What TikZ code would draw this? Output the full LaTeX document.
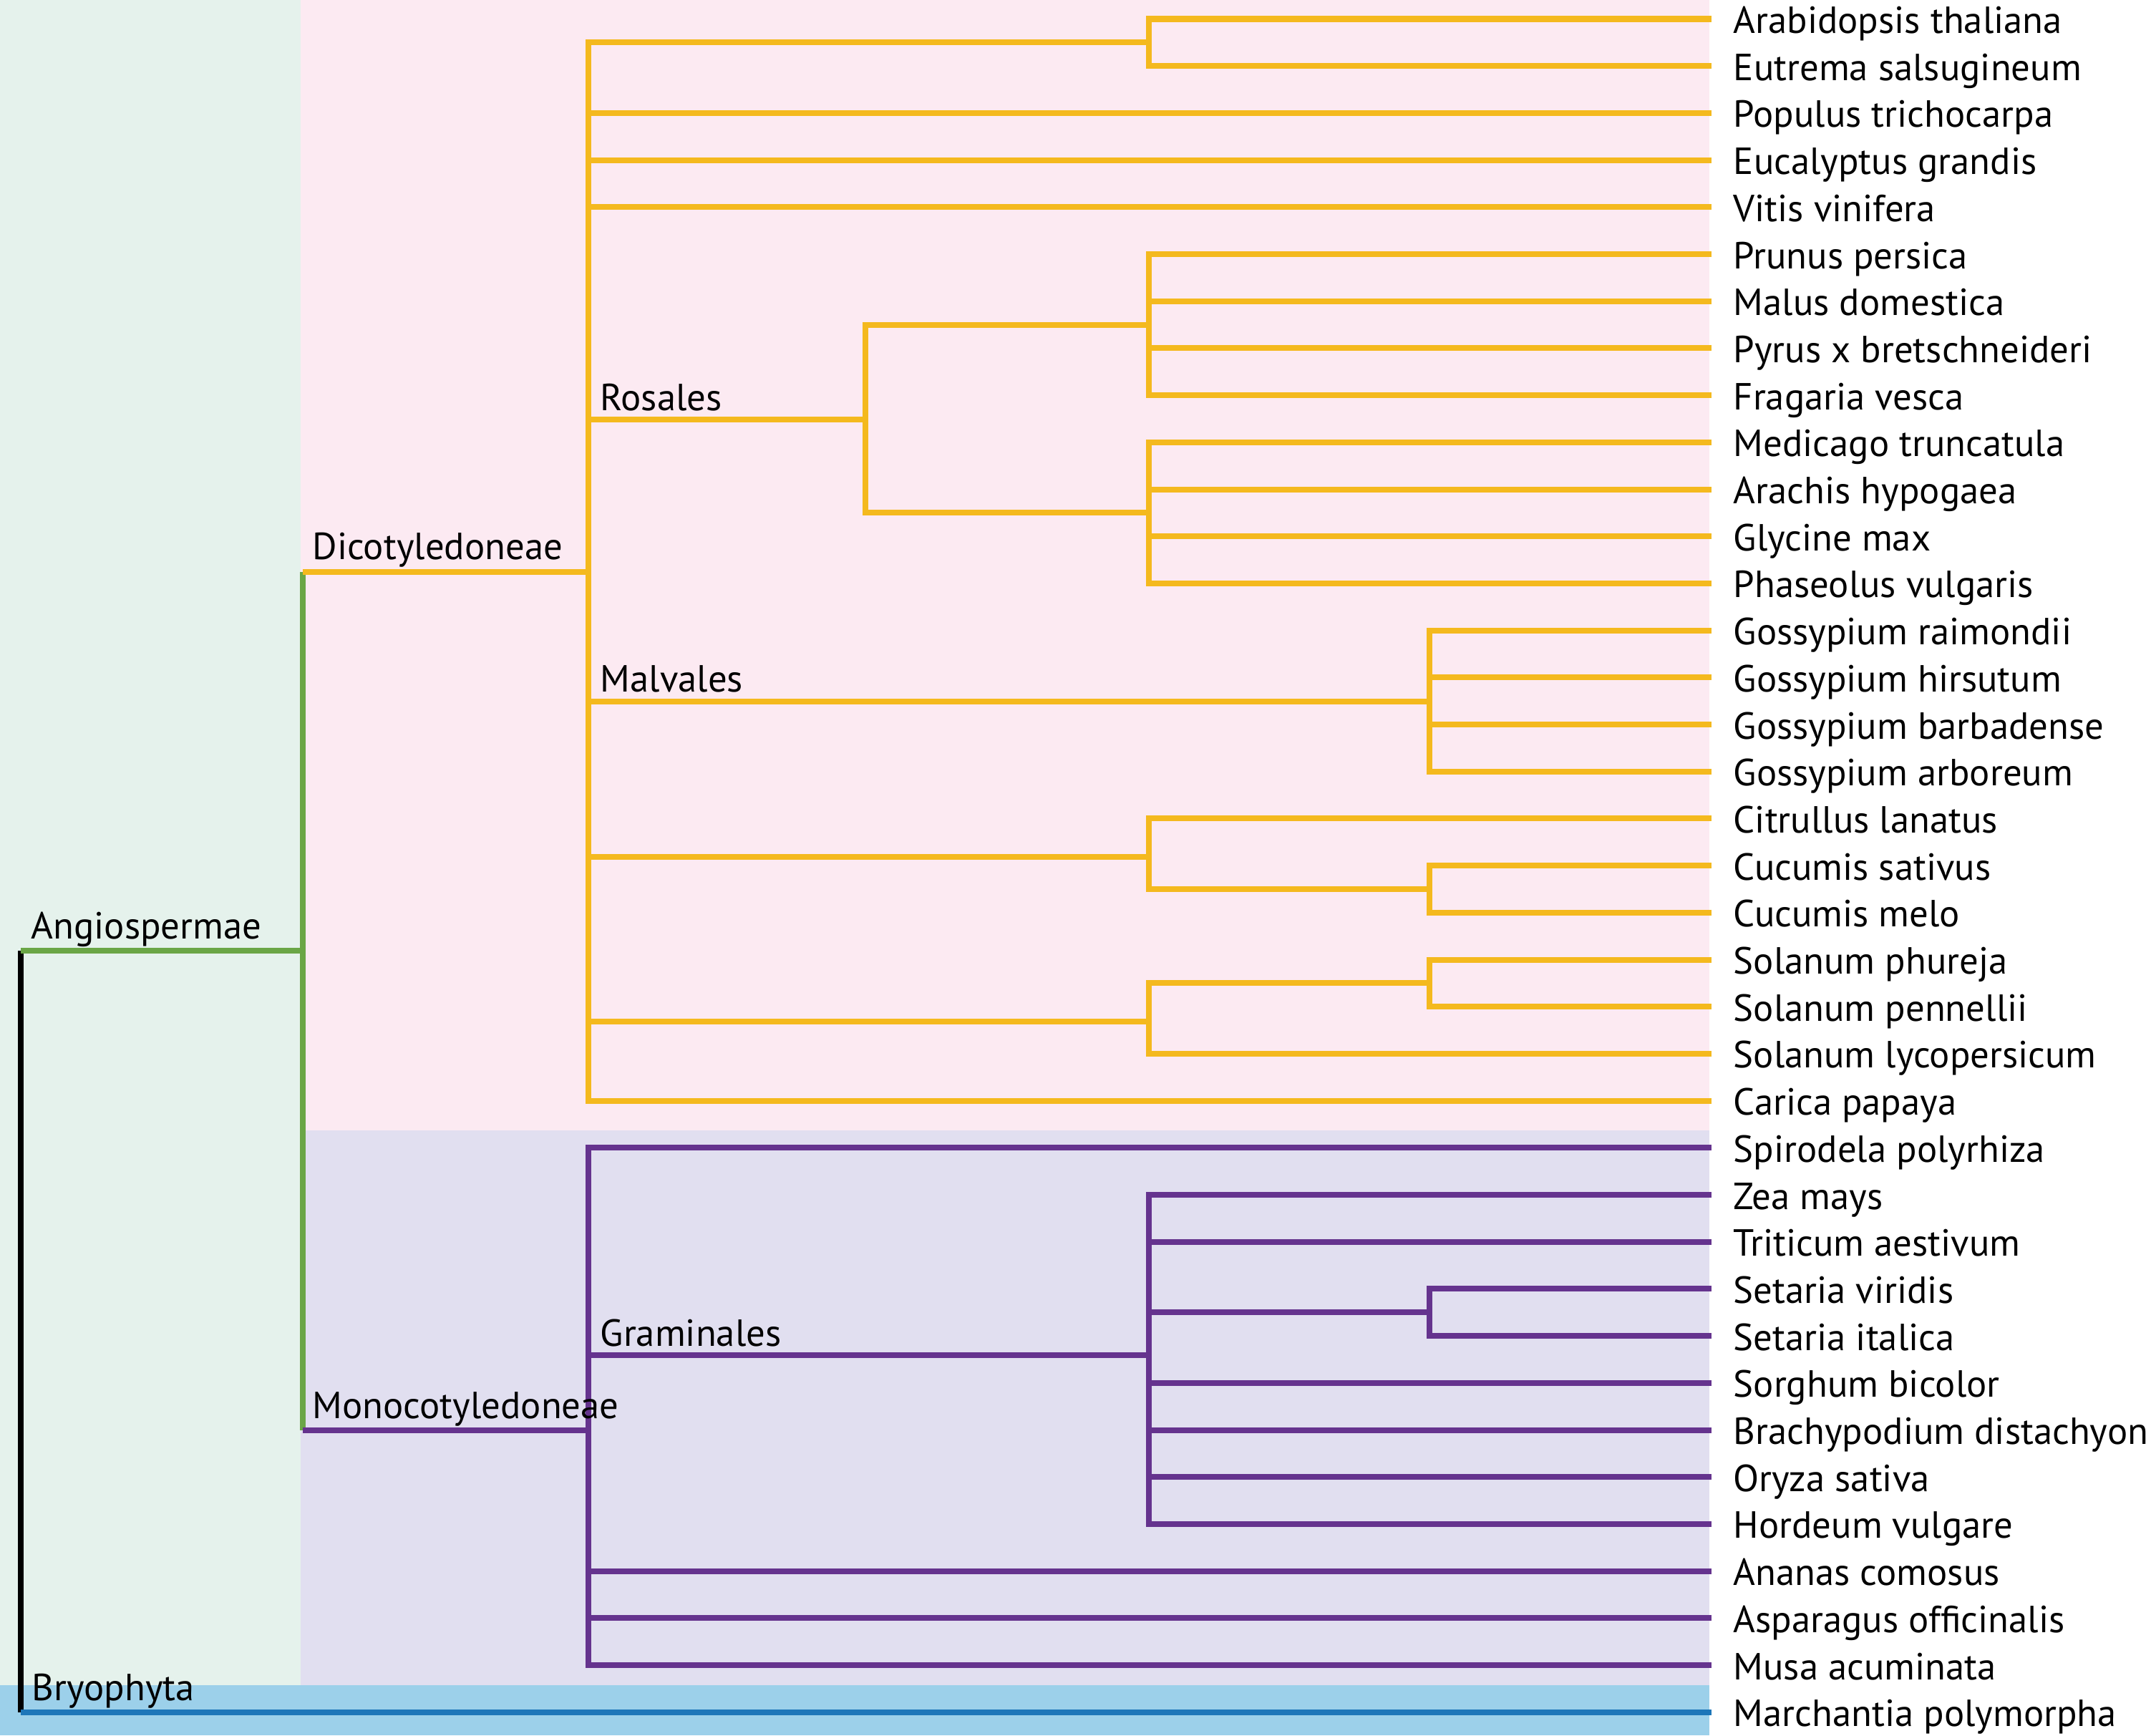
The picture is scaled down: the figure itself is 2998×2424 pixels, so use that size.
\documentclass[tikz,border=0pt]{standalone}
\usepackage{fontspec}
\setmainfont{PT Sans}
\definecolor{bggreen}{HTML}{E5F2EC}
\definecolor{bgpink}{HTML}{FCEAF2}
\definecolor{bglav}{HTML}{E1DFF0}
\definecolor{bgblue}{HTML}{9CD0EA}
\definecolor{cyellow}{HTML}{F4B91E}
\definecolor{cgreen}{HTML}{6AA646}
\definecolor{cpurple}{HTML}{65338E}
\definecolor{cblue}{HTML}{1D76B9}
\tikzset{
  branch/.style={line width=0.08cm},
  dico/.style={branch, draw=cyellow},
  mono/.style={branch, draw=cpurple},
  angio/.style={branch, draw=cgreen},
  bryo/.style={branch, draw=cblue},
  rootline/.style={branch, draw=black},
  leaf/.style={anchor=base west, inner sep=0pt, font=\fontsize{15}{18}\selectfont, text=black},
  clade/.style={anchor=base west, inner sep=0pt, font=\fontsize{15}{18}\selectfont, text=black}
}
\begin{document}
\begin{tikzpicture}[x=0.01cm, y=-0.01cm]
\useasboundingbox (0,0) rectangle (2998,2424);
% backgrounds
\fill[bggreen] (0,0) rectangle (420,2354);
\fill[bgpink] (420,0) rectangle (2388,1578.5);
\fill[bglav] (420,1578.5) rectangle (2388,2354);
\fill[bgblue] (0,2354) rectangle (2388,2424);

% leaves
\foreach \n [count=\i from 0] in {Arabidopsis thaliana, Eutrema salsugineum, Populus trichocarpa, Eucalyptus grandis, Vitis vinifera, Prunus persica, Malus domestica, Pyrus x bretschneideri, Fragaria vesca, Medicago truncatula, Arachis hypogaea, Glycine max, Phaseolus vulgaris, Gossypium raimondii, Gossypium hirsutum, Gossypium barbadense, Gossypium arboreum, Citrullus lanatus, Cucumis sativus, Cucumis melo, Solanum phureja, Solanum pennellii, Solanum lycopersicum, Carica papaya, Spirodela polyrhiza, Zea mays, Triticum aestivum, Setaria viridis, Setaria italica, Sorghum bicolor, Brachypodium distachyon, Oryza sativa, Hordeum vulgare, Ananas comosus, Asparagus officinalis, Musa acuminata, Marchantia polymorpha} {
  \coordinate (t\i) at (2391, {26.5+65.7*\i});
  \node[leaf] (l\i) at (2421, {26.5+65.7*\i+20}) {\n};
}

% internal nodes
\coordinate (root) at (29,1328);
\coordinate (angio) at (423,1328);
\coordinate (dicot) at (822,799);
\coordinate (monoc) at (822,1997.5);
\coordinate (brass) at (1605,59.35);
\coordinate (ros) at (1209,585.7);
\coordinate (rosA) at (1605,453.55);
\coordinate (rosB) at (1605,716.35);
\coordinate (malv) at (1997,979.5);
\coordinate (cucu) at (1605,1196.7);
\coordinate (cucumis) at (1997,1241.95);
\coordinate (sola) at (1605,1426.7);
\coordinate (solsub) at (1997,1373.35);
\coordinate (gram) at (1605,1893.3);
\coordinate (seta) at (1997,1833.25);

% root
\draw[rootline] (root) -- (root |- t36);
\draw[bryo] (root |- t36) -- (t36);
% angiosperms
\draw[angio] (root) -- (angio);
\draw[angio] (angio |- dicot) -- (angio |- monoc);
\draw[dico] (angio |- dicot) -- (dicot);
\draw[mono] (angio |- monoc) -- (monoc);

% dicots
\foreach \c in {brass, t2, t3, t4, ros, malv, cucu, sola, t23}
  \draw[dico] (dicot) |- (\c);
\foreach \c in {t0, t1} \draw[dico] (brass) |- (\c);
\foreach \c in {rosA, rosB} \draw[dico] (ros) |- (\c);
\foreach \c in {t5, t6, t7, t8} \draw[dico] (rosA) |- (\c);
\foreach \c in {t9, t10, t11, t12} \draw[dico] (rosB) |- (\c);
\foreach \c in {t13, t14, t15, t16} \draw[dico] (malv) |- (\c);
\foreach \c in {t17, cucumis} \draw[dico] (cucu) |- (\c);
\foreach \c in {t18, t19} \draw[dico] (cucumis) |- (\c);
\foreach \c in {solsub, t22} \draw[dico] (sola) |- (\c);
\foreach \c in {t20, t21} \draw[dico] (solsub) |- (\c);

% monocots
\foreach \c in {t24, gram, t33, t34, t35}
  \draw[mono] (monoc) |- (\c);
\foreach \c in {t25, t26, seta, t29, t30, t31, t32} \draw[mono] (gram) |- (\c);
\foreach \c in {t27, t28} \draw[mono] (seta) |- (\c);

% clade labels
\node[clade] (lAngio) at (43,1311) {Angiospermae};
\node[clade] (lBryo) at (44,2375) {Bryophyta};
\node[clade] (lDicot) at (436,781) {Dicotyledoneae};
\node[clade] (lMono) at (436,1981) {Monocotyledoneae};
\node[clade] (lRos) at (838,573) {Rosales};
\node[clade] (lMalv) at (838,966) {Malvales};
\node[clade] (lGram) at (838,1880) {Graminales};
\end{tikzpicture}
\end{document}
